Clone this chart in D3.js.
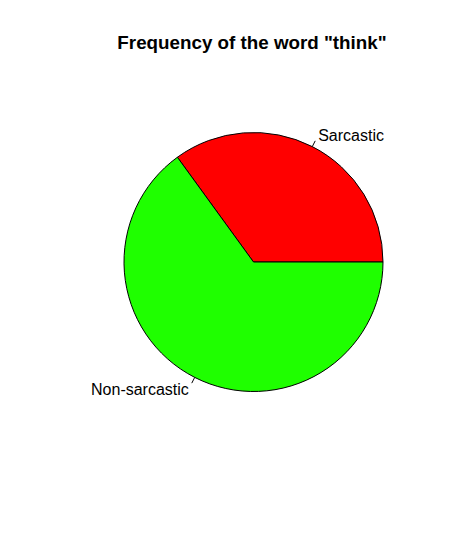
<!DOCTYPE html>
<html><head><meta charset="utf-8">
<script src="https://cdn.jsdelivr.net/npm/d3@7"></script>
<style>body{margin:0;background:#fff}</style>
</head><body>
<script>
const categories = ["Sarcastic", "Non-sarcastic"];
const values = [35, 65];
const colors = ["#FF0000", "#1FFF00"];
const title = 'Frequency of the word "think"';

const W = 469, H = 544;
const cx = 253.5, cy = 262, R = 129.5;
const svg = d3.select("body").append("svg").attr("width", W).attr("height", H);

svg.append("text").attr("x", 252).attr("y", 48.5).attr("text-anchor", "middle")
  .attr("font-family", "Liberation Sans, Arial, sans-serif").attr("font-weight", "bold")
  .attr("font-size", 18.8).text(title);

const total = d3.sum(values);
// R pie: start at 0 (east), counterclockwise
const angle = d3.scaleLinear().domain([0, total]).range([0, 2 * Math.PI]);
const g = svg.append("g").attr("transform", `translate(${cx},${cy})`);
let cum = 0;
const slices = categories.map((c, i) => {
  const s = { cat: c, a0: angle(cum), a1: angle(cum + values[i]), color: colors[i] };
  cum += values[i];
  return s;
});
const arc = d3.arc().innerRadius(0).outerRadius(R);
g.selectAll("path.slice").data(slices).join("path")
  .attr("d", d => arc({ startAngle: Math.PI / 2 - d.a1, endAngle: Math.PI / 2 - d.a0 }))
  .attr("fill", d => d.color).attr("stroke", "#000").attr("stroke-width", 1);

slices.forEach(d => {
  const m = (d.a0 + d.a1) / 2;
  const x = Math.cos(m), y = -Math.sin(m);
  g.append("line").attr("x1", x * R).attr("y1", y * R).attr("x2", x * R * 1.05).attr("y2", y * R * 1.05)
    .attr("stroke", "#000").attr("stroke-width", 1);
  g.append("text").attr("x", x * R * 1.1).attr("y", y * R * 1.1)
    .attr("dy", "0.35em").attr("text-anchor", x > 0 ? "start" : "end")
    .attr("font-family", "Liberation Sans, Arial, sans-serif").attr("font-size", 16)
    .text(d.cat);
});
</script>
</body></html>
